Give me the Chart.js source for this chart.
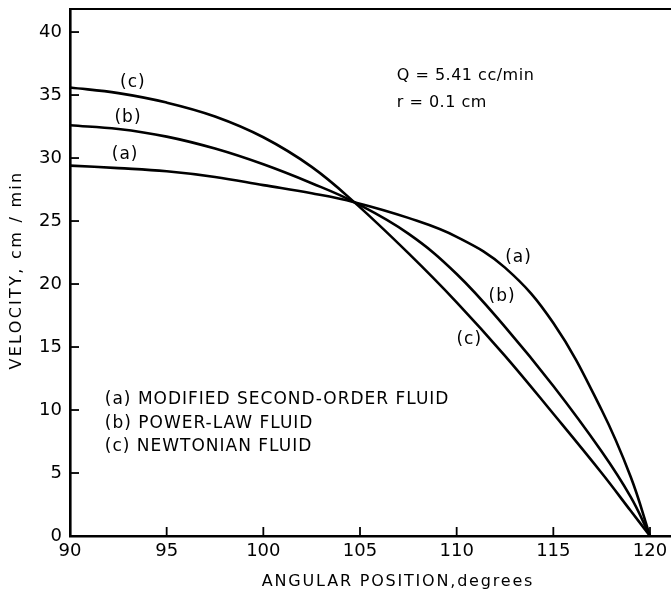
<!DOCTYPE html>
<html>
<head>
<meta charset="utf-8">
<script src="https://cdn.jsdelivr.net/npm/chart.js@4.4.1/dist/chart.umd.min.js"></script>
<style>
  html, body { margin: 0; padding: 0; background: #fff; }
  #wrap { width: 671px; height: 596px; }
</style>
</head>
<body>
<div id="wrap"><canvas id="myChart"></canvas></div>
<script>
// angular position (degrees) of each reading
const angle = [90, 92.5, 95, 97.5, 100, 102.5, 104.7, 107.5, 110, 112.5, 115, 117.5, 119, 120];
// (a) modified second-order fluid, cm/min
const secondOrder = [29.4, 29.2, 28.95, 28.5, 27.85, 27.2, 26.5, 25.25, 23.75, 21.3, 16.9, 10.0, 4.7, 0];
// (b) power-law fluid, cm/min
const powerLaw = [32.6, 32.3, 31.7, 30.75, 29.5, 28.0, 26.5, 24.0, 20.8, 16.6, 11.9, 6.7, 3.1, 0];
// (c) newtonian fluid, cm/min
const newtonian = [35.6, 35.15, 34.4, 33.3, 31.65, 29.3, 26.5, 22.45, 18.55, 14.3, 9.7, 5.0, 2.0, 0];

const xTicks = [90, 95, 100, 105, 110, 115, 120];
const yTicks = [0, 5, 10, 15, 20, 25, 30, 35, 40];

const legendLines = [
  '(a) MODIFIED SECOND-ORDER FLUID',
  '(b) POWER-LAW FLUID',
  '(c) NEWTONIAN FLUID'
];
const conditions = ['Q = 5.41 cc/min', 'r = 0.1 cm'];
const xTitle = 'ANGULAR POSITION,degrees';
const yTitle = 'VELOCITY, cm / min';

const FONT = '"DejaVu Sans", sans-serif';

function toPoints(ys) {
  return angle.map((a, i) => ({x: a, y: ys[i]}));
}

function curve(label, ys) {
  return {
    label: label,
    data: toPoints(ys),
    showLine: true,
    borderColor: '#000',
    borderWidth: 2.6,
    pointRadius: 0,
    tension: 0.4,
    fill: false
  };
}

// labels, inward tick marks, axis titles and top frame line
const notes = {
  id: 'notes',
  afterDraw(chart) {
    const ctx = chart.ctx;
    const xs = chart.scales.x, ys = chart.scales.y;
    const area = chart.chartArea;
    ctx.save();
    ctx.strokeStyle = '#000';
    ctx.lineWidth = 2.2;
    ctx.beginPath();
    ctx.moveTo(area.left, area.top);
    ctx.lineTo(area.right, area.top);
    ctx.stroke();

    ctx.lineWidth = 1.8;
    xTicks.slice(1).forEach(v => {
      const px = xs.getPixelForValue(v);
      ctx.beginPath();
      ctx.moveTo(px, area.bottom);
      ctx.lineTo(px, area.bottom - 9);
      ctx.stroke();
    });
    yTicks.slice(1).forEach(v => {
      const py = ys.getPixelForValue(v);
      ctx.beginPath();
      ctx.moveTo(area.left, py);
      ctx.lineTo(area.left + 9, py);
      ctx.stroke();
    });

    ctx.fillStyle = '#000';
    ctx.textBaseline = 'middle';
    ctx.textAlign = 'center';
    ctx.font = '17px ' + FONT;
    ctx.letterSpacing = '1px';
    const tags = [
      ['(c)', 93.25, 36.0], ['(b)', 93.0, 33.2], ['(a)', 92.85, 30.3],
      ['(a)', 113.2, 22.1], ['(b)', 112.35, 19.0], ['(c)', 110.65, 15.6]
    ];
    tags.forEach(t => ctx.fillText(t[0], xs.getPixelForValue(t[1]), ys.getPixelForValue(t[2])));

    ctx.textAlign = 'left';
    ctx.font = '16px ' + FONT;
    ctx.letterSpacing = '0.5px';
    conditions.forEach((s, i) => {
      ctx.fillText(s, xs.getPixelForValue(106.9), ys.getPixelForValue(36.5 - i * 2.15));
    });
    ctx.font = '17px ' + FONT;
    ctx.letterSpacing = '1px';
    legendLines.forEach((s, i) => {
      ctx.fillText(s, xs.getPixelForValue(91.8), ys.getPixelForValue(10.8 - i * 1.85));
    });

    ctx.font = '16px ' + FONT;
    ctx.letterSpacing = '1.8px';
    ctx.textAlign = 'center';
    ctx.fillText(xTitle, 398, 582);
    ctx.letterSpacing = '2.3px';
    ctx.translate(17, 270);
    ctx.rotate(-Math.PI / 2);
    ctx.fillText(yTitle, 0, 0);
    ctx.restore();
  }
};

new Chart(document.getElementById('myChart'), {
  type: 'scatter',
  data: {
    datasets: [
      curve('(a)', secondOrder),
      curve('(b)', powerLaw),
      curve('(c)', newtonian)
    ]
  },
  options: {
    responsive: true,
    maintainAspectRatio: false,
    animation: false,
    layout: {padding: {top: 9, right: 0, left: 0, bottom: 0}},
    plugins: {legend: {display: false}, tooltip: {enabled: false}},
    scales: {
      x: {
        type: 'linear',
        min: 90,
        max: 121.086,
        afterFit: s => { s.height = 60; s.paddingLeft = 0; s.paddingRight = 0; },
        grid: {display: false, drawTicks: false},
        border: {color: '#000', width: 2.6},
        ticks: {
          stepSize: 5,
          includeBounds: false,
          padding: 5,
          color: '#000',
          font: {family: FONT, size: 18},
          maxRotation: 0
        }
      },
      y: {
        min: 0,
        max: 41.83,
        afterFit: s => { s.width = 70; s.paddingTop = 0; s.paddingBottom = 0; },
        grid: {display: false, drawTicks: false},
        border: {color: '#000', width: 2.6},
        ticks: {
          stepSize: 5,
          includeBounds: false,
          padding: 8,
          color: '#000',
          font: {family: FONT, size: 18}
        }
      }
    }
  },
  plugins: [notes]
});
</script>
</body>
</html>
